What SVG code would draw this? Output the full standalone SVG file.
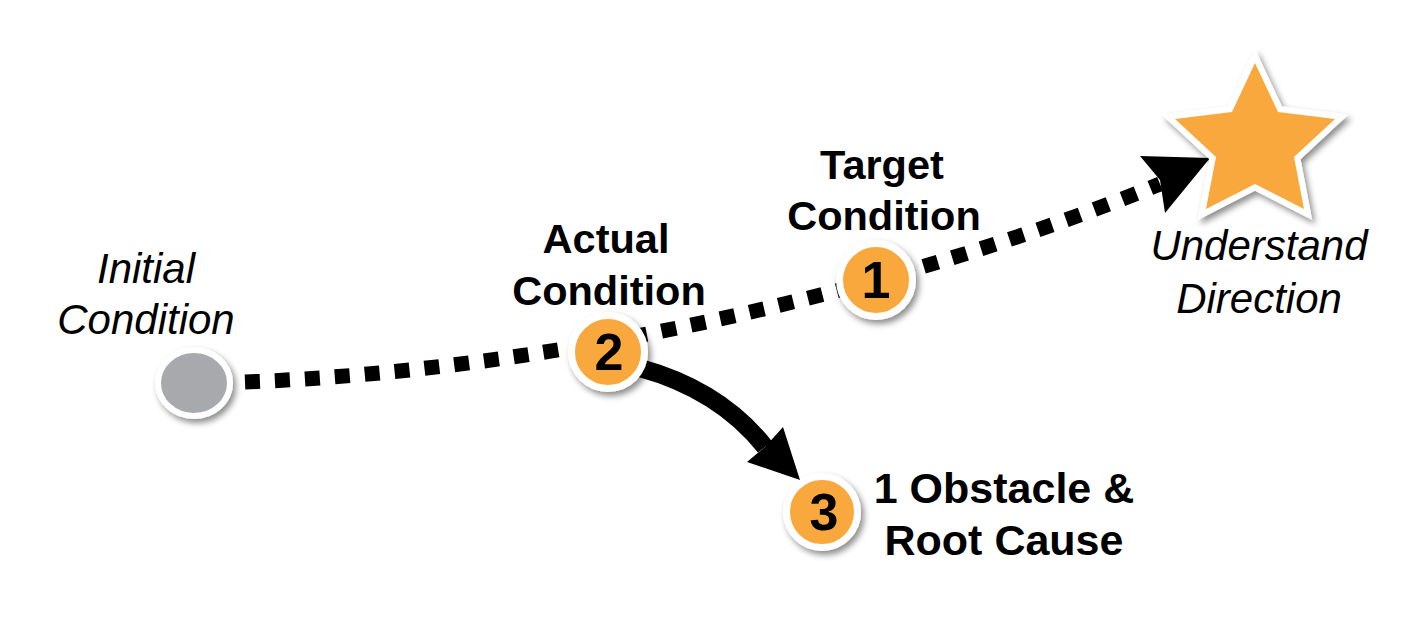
<svg xmlns="http://www.w3.org/2000/svg" width="1423" height="634" viewBox="0 0 1423 634">
<defs>
<filter id="sh" x="-30%" y="-30%" width="160%" height="160%">
<feDropShadow dx="3" dy="4" stdDeviation="3" flood-color="#000" flood-opacity="0.45"/>
</filter>
<style>
.it{font-family:"Liberation Sans",Arial,sans-serif;font-style:italic;font-size:42px;fill:#000;text-anchor:middle}
.bd{font-family:"Liberation Sans",Arial,sans-serif;font-weight:bold;font-size:41.5px;fill:#000;text-anchor:middle}
.bl{font-family:"Liberation Sans",Arial,sans-serif;font-weight:bold;font-size:43px;fill:#000;text-anchor:middle}
.num{font-family:"Liberation Sans",Arial,sans-serif;font-weight:bold;font-size:52px;fill:#000;text-anchor:middle}
.badge{fill:#F9A83D;stroke:#fff;stroke-width:7;filter:url(#sh)}
.dash{fill:none;stroke:#000;stroke-width:15;stroke-dasharray:15 15}
</style>
</defs>
<g id="connectors">
<path class="dash" d="M 245 382 C 560 370, 900 290, 1160 184"/>
<polygon points="1210,158 1140,156 1160,180 1165,213" fill="#000"/>
<path d="M 640 368 Q 720 390 765 447" fill="none" stroke="#000" stroke-width="18"/>
<polygon points="800,480 747,462 765,447 783,427" fill="#000"/>
</g>
<g id="initial">
<ellipse cx="194" cy="383" rx="36" ry="33" fill="#A7A9AC" stroke="#fff" stroke-width="6" filter="url(#sh)"/>
<text class="it" x="146" y="283">Initial</text>
<text class="it" x="146" y="334">Condition</text>
</g>
<g id="actual">
<circle class="badge" cx="608" cy="352" r="36.5"/>
<text class="num" x="609" y="370">2</text>
<text class="bd" x="606" y="253">Actual</text>
<text class="bd" x="609" y="305">Condition</text>
</g>
<g id="target">
<circle class="badge" cx="876" cy="280" r="36.5"/>
<text class="num" x="876" y="298">1</text>
<text class="bd" x="882" y="179">Target</text>
<text class="bd" x="884" y="230">Condition</text>
</g>
<g id="obstacle">
<circle class="badge" cx="822" cy="512" r="35.5"/>
<text class="num" x="824" y="530">3</text>
<text class="bl" x="1004" y="503">1 Obstacle &amp;</text>
<text class="bl" x="1004" y="555">Root Cause</text>
</g>
<g id="direction">
<polygon points="1255,63 1278,112 1335,119 1294,157 1304,209 1255,184 1206,209 1216,157 1175,119 1232,112" fill="#F9A83D" stroke="#fff" stroke-width="12" stroke-linejoin="miter" paint-order="stroke" filter="url(#sh)"/>
<text class="it" x="1259" y="260">Understand</text>
<text class="it" x="1259" y="313">Direction</text>
</g>
</svg>
